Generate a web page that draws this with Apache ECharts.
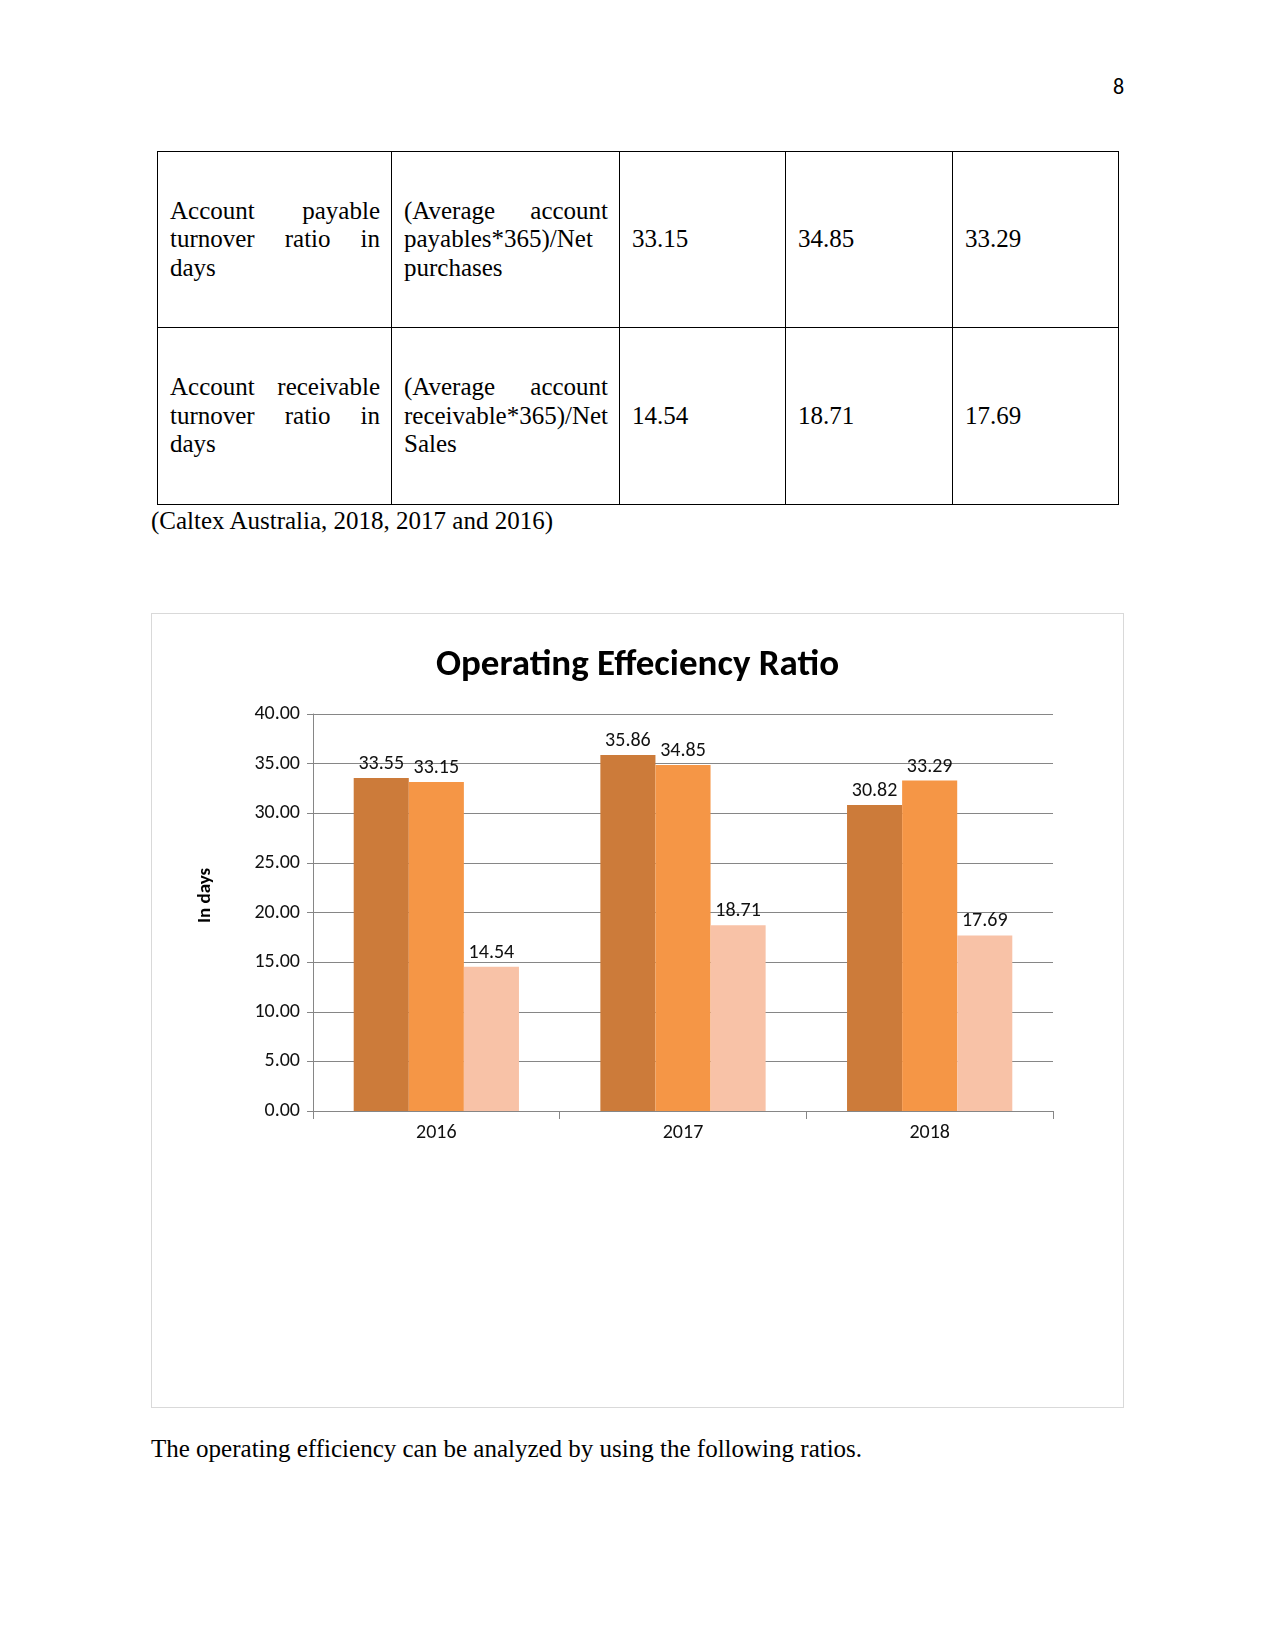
<!DOCTYPE html>
<html>
<head>
<meta charset="utf-8">
<script src="https://cdn.jsdelivr.net/npm/echarts@6/dist/echarts.min.js"></script>
<style>
  html, body { margin: 0; padding: 0; background: #ffffff; }
  body { width: 1275px; height: 1651px; position: relative; overflow: hidden; }
  .pg { position: absolute; left: 1113px; top: 73px; font-family: "Carlito", "Lato", "Liberation Sans", sans-serif; font-size: 22px; color: #000; }
  table.t { position: absolute; left: 157px; top: 151px; border-collapse: collapse; font-family: "Liberation Serif", serif; font-size: 25px; line-height: 28.4px; color: #000; }
  table.t td { border: 1px solid #000; padding: 0 11px 0 12px; vertical-align: middle; box-sizing: border-box; }
  table.t td.j { text-align: justify; text-align-last: left; }
  .cap { position: absolute; left: 151px; top: 507px; font-family: "Liberation Serif", serif; font-size: 25px; color: #000; white-space: nowrap; }
  #chart { position: absolute; left: 151px; top: 613px; width: 971px; height: 793px; border: 1px solid #d9d9d9; }
  .para { position: absolute; left: 151px; top: 1435px; font-family: "Liberation Serif", serif; font-size: 25px; color: #000; white-space: nowrap; }
</style>
</head>
<body>
<div class="pg">8</div>
<table class="t">
  <tr style="height:176px">
    <td class="j" style="width:234px">Account payable turnover ratio in days</td>
    <td class="j" style="width:225px">(Average account payables*365)/Net purchases</td>
    <td style="width:166px">33.15</td>
    <td style="width:167px">34.85</td>
    <td style="width:166px">33.29</td>
  </tr>
  <tr style="height:177px">
    <td class="j">Account receivable turnover ratio in days</td>
    <td class="j">(Average account receivable*365)/Net Sales</td>
    <td>14.54</td>
    <td>18.71</td>
    <td>17.69</td>
  </tr>
</table>
<div class="cap">(Caltex Australia, 2018, 2017 and 2016)</div>
<div id="chart"></div>
<div class="para">The operating efficiency can be analyzed by using the following ratios.</div>
<script>
const categories = ['2016', '2017', '2018'];
const seriesNames = ['Inventory turnover in days', 'Account payable turnover in days', 'Account receivable turnover in days'];
const series1 = [33.55, 35.86, 30.82];
const series2 = [33.15, 34.85, 33.29];
const series3 = [14.54, 18.71, 17.69];
const yTicks = { min: 0, max: 40, interval: 5 };
const colors = ['#CC7B3A', '#F59646', '#F8C2A7'];

const chart = echarts.init(document.getElementById('chart'), null, { renderer: 'canvas' });
const FONT = 'Carlito, Lato, sans-serif';
const labelStyle = {
  show: true, position: 'top', distance: 4,
  fontFamily: FONT, fontSize: 20, color: '#111111',
  formatter: p => p.value.toFixed(2)
};
chart.setOption({
  animation: false,
  backgroundColor: '#ffffff',
  title: {
    text: 'Operating Effeciency Ratio',
    left: 'center', top: 28,
    textStyle: { fontFamily: FONT, fontWeight: 'bold', fontSize: 37, color: '#000' }
  },
  grid: { left: 161, right: 70, top: 100, bottom: 296 },
  xAxis: {
    type: 'category',
    data: categories,
    axisLine: { lineStyle: { color: '#868686', width: 1 } },
    axisTick: { show: true, alignWithLabel: false, length: 8, lineStyle: { color: '#868686' } },
    axisLabel: { fontFamily: FONT, fontSize: 20, color: '#111111', margin: 12 }
  },
  yAxis: {
    type: 'value',
    min: yTicks.min, max: yTicks.max, interval: yTicks.interval,
    name: 'In days',
    nameLocation: 'middle', nameRotate: 90, nameGap: 98,
    nameTextStyle: { fontFamily: FONT, fontWeight: 'bold', fontSize: 19, color: '#000', padding: [0, 0, 0, 34] },
    axisLine: { show: true, lineStyle: { color: '#868686', width: 1 } },
    axisTick: { show: true, length: 6, inside: false, lineStyle: { color: '#868686' } },
    axisLabel: { fontFamily: FONT, fontSize: 20, color: '#111111', margin: 13, formatter: v => v.toFixed(2) },
    splitLine: { lineStyle: { color: '#868686', width: 1 } }
  },
  series: [
    { name: seriesNames[0], type: 'bar', data: series1, itemStyle: { color: colors[0] }, barGap: '0%', barCategoryGap: '33%', label: labelStyle },
    { name: seriesNames[1], type: 'bar', data: series2, itemStyle: { color: colors[1] }, barGap: '0%', barCategoryGap: '33%', label: labelStyle },
    { name: seriesNames[2], type: 'bar', data: series3, itemStyle: { color: colors[2] }, barGap: '0%', barCategoryGap: '33%', label: labelStyle }
  ]
});
</script>
</body>
</html>
